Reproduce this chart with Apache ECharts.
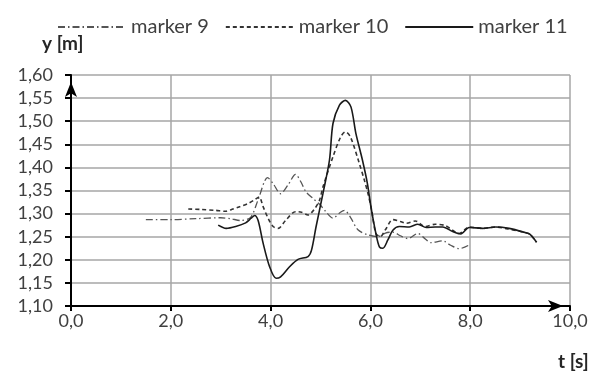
<!DOCTYPE html>
<html lang="en">
<head>
    <meta charset="UTF-8">
    <title>markers</title>
    <script src="https://cdn.jsdelivr.net/npm/echarts@6/dist/echarts.min.js"></script>
    <style>
        *{
            padding:0;
            margin:0;
        }
        #main{
            width:603px;
            height:374px;
            background:#fff;
        }
    </style>
</head>
<body>
    <div id="main"></div>
    <script>
        var names=["marker 9","marker 10","marker 11"]
        // marker 9 (dash-dot)
        var m9T=[1.50,2.00,2.50,3.00,3.20,3.40,3.60,3.75,3.94,4.05,4.20,4.35,4.50,4.60,4.71,4.85,5.00,5.10,5.25,5.40,5.48,5.60,5.75,5.95,6.15,6.30,6.45,6.60,6.75,6.95,7.10,7.21,7.45,7.60,7.78,7.96]
        var m9Y=[1.287,1.287,1.289,1.291,1.289,1.285,1.292,1.330,1.378,1.365,1.343,1.362,1.385,1.370,1.347,1.333,1.318,1.305,1.290,1.303,1.307,1.292,1.265,1.254,1.250,1.258,1.260,1.252,1.246,1.257,1.245,1.237,1.241,1.232,1.224,1.231]
        // marker 10 (dashed)
        var m10T=[2.35,2.60,2.90,3.10,3.20,3.38,3.55,3.68,3.77,3.85,3.95,4.05,4.15,4.30,4.50,4.62,4.75,4.88,4.98,5.05,5.25,5.40,5.50,5.60,5.78,5.88,5.95,6.02,6.11,6.20,6.30,6.45,6.60,6.72,6.90,7.10,7.30,7.50,7.78,7.98,8.25,8.50,8.75,9.10,9.20,9.33]
        var m10Y=[1.310,1.309,1.307,1.305,1.308,1.315,1.322,1.330,1.336,1.315,1.290,1.272,1.268,1.285,1.304,1.303,1.297,1.310,1.329,1.358,1.423,1.465,1.477,1.466,1.408,1.372,1.344,1.310,1.257,1.250,1.265,1.287,1.283,1.279,1.284,1.272,1.277,1.274,1.257,1.271,1.268,1.271,1.267,1.259,1.255,1.238]
        // marker 11 (solid)
        var m11T=[2.95,3.11,3.30,3.50,3.61,3.68,3.75,3.85,3.98,4.11,4.20,4.38,4.55,4.75,4.82,4.91,5.05,5.18,5.25,5.38,5.50,5.61,5.71,5.84,5.94,6.01,6.11,6.18,6.25,6.35,6.45,6.58,6.78,6.95,7.12,7.30,7.45,7.65,7.81,7.98,8.25,8.51,8.78,9.10,9.20,9.33]
        var m11Y=[1.275,1.268,1.272,1.280,1.290,1.296,1.285,1.236,1.185,1.160,1.163,1.185,1.201,1.207,1.221,1.271,1.344,1.416,1.495,1.535,1.545,1.531,1.473,1.416,1.365,1.315,1.257,1.228,1.225,1.243,1.264,1.272,1.271,1.277,1.270,1.271,1.271,1.261,1.256,1.270,1.268,1.271,1.268,1.259,1.255,1.238]

        function pairs(t,y){
            return t.map(function(v,i){return [v,y[i]]})
        }

        var myCharts=echarts.init(document.getElementById("main"))
        var font="Lato"
        var option={
            animation:false,
            textStyle:{fontFamily:font},
            legend:{
                data:names,
                left:52,
                top:12,
                itemWidth:68,
                itemHeight:10,
                itemGap:16,
                itemStyle:{opacity:0},
                textStyle:{color:"#404040",fontSize:20,fontFamily:font},
            },
            grid:{
                left:71,
                right:33,
                top:75,
                bottom:68,
            },
            xAxis:{
                type:"value",
                min:0,
                max:10,
                interval:2,
                axisLine:{
                    lineStyle:{color:"#000",width:2},
                    symbol:["none","arrow"],
                    symbolSize:[9,15],
                    symbolOffset:[0,-7],
                },
                axisTick:{show:true,length:5,lineStyle:{color:"#000",width:2}},
                axisLabel:{
                    color:"#404040",
                    fontSize:18,
                    margin:6,
                    formatter:function(v){return v.toFixed(1).replace(".",",")}
                },
                splitLine:{show:true,lineStyle:{color:"#a6a6a6",width:1.5}},
            },
            yAxis:{
                type:"value",
                min:1.10,
                max:1.60,
                interval:0.05,
                axisLine:{
                    show:true,
                    lineStyle:{color:"#000",width:2},
                    symbol:["none","arrow"],
                    symbolSize:[9,15],
                    symbolOffset:[0,-7],
                },
                axisTick:{show:true,length:6,lineStyle:{color:"#000",width:2}},
                axisLabel:{
                    color:"#404040",
                    fontSize:18,
                    margin:18,
                    formatter:function(v){return v.toFixed(2).replace(".",",")}
                },
                splitLine:{show:true,lineStyle:{color:"#a6a6a6",width:1.5}},
            },
            graphic:[
                {type:"text",left:42,top:34,style:{text:"y [m]",font:"bold 19px "+font,fill:"#262626"}},
                {type:"text",left:558,top:352,style:{text:"t [s]",font:"bold 19px "+font,fill:"#262626"}},
            ],
            series:[
                {
                    name:names[0],
                    type:"line",
                    data:pairs(m9T,m9Y),
                    symbol:"none",
                    smooth:0.3,
                    lineStyle:{color:"#555",width:1.3,type:[7,3,1.5,3]},
                    itemStyle:{color:"#555"},
                },
                {
                    name:names[1],
                    type:"line",
                    data:pairs(m10T,m10Y),
                    symbol:"none",
                    smooth:0.3,
                    lineStyle:{color:"#333",width:1.6,type:[4,3]},
                    itemStyle:{color:"#333"},
                },
                {
                    name:names[2],
                    type:"line",
                    data:pairs(m11T,m11Y),
                    symbol:"none",
                    smooth:0.3,
                    lineStyle:{color:"#1a1a1a",width:1.6},
                    itemStyle:{color:"#1a1a1a"},
                },
            ]
        }
        myCharts.setOption(option)
    </script>
</body>
</html>
